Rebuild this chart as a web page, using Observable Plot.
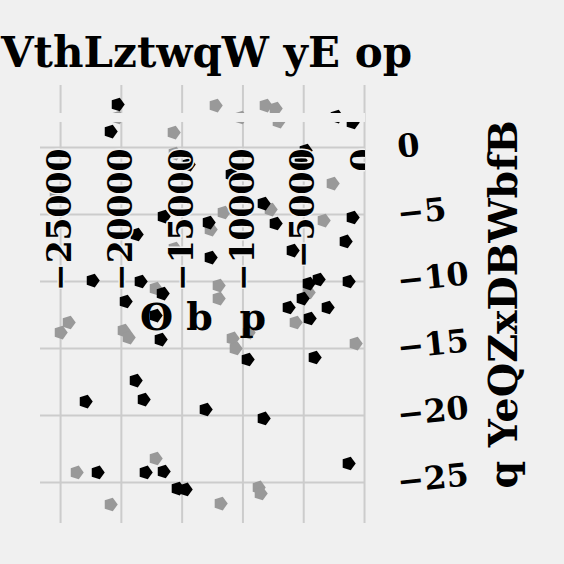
<!DOCTYPE html>
<html>
<head>
<meta charset="utf-8">
<script src="https://cdn.jsdelivr.net/npm/d3@7"></script>
<script src="https://cdn.jsdelivr.net/npm/@observablehq/plot@0.6"></script>
<style>
  html, body { margin: 0; padding: 0; background: #f0f0f0; }
  #title { font-family: "DejaVu Serif", serif; font-weight: bold; font-size: 42px; line-height: 38px; margin: 0; padding: 34px 0 0 1px; height: 46px; white-space: nowrap; color: #000; }
  #chart svg { display: block; }
</style>
</head>
<body>
<div id="title"></div>
<div id="chart"></div>
<script>
const titleText = "VthLztwqW yE op";
const xLabel = "O b\u00a0 p";
const yLabel = "q YeQZxDBWbfB";
const xTicks = [-25000, -20000, -15000, -10000, -5000, 0];
const yTicks = [0, -5, -10, -15, -20, -25];
const bandRange = [{y1: 1.87, y2: 2.54}];

const blackX = [-20313, -20889, -14474, -16530, -18751, -22369, -18422, -16612, -19655, -2303, -987, -4852, -5263, -10938, -8306, -7319, -987, -12829, -1563, -12665, -5921, -4605, -3783, -1316, -5099, -17188, -16777, -18833, -18175, -22945, -21958, -18011, -16530, -15379, -14721, -6250, -3043, -4523, -9622, -4112, -8306, -13076, -1316];
const blackY = [3.21, 1.19, -1.27, -5.15, -6.49, -9.93, -10.0, -10.9, -11.49, 2.31, 1.87, -0.22, -0.97, -2.01, -4.18, -5.67, -5.22, -5.60, -7.01, -8.21, -7.69, -10.15, -9.85, -10.0, -11.27, -12.54, -14.33, -17.39, -18.81, -18.96, -24.25, -24.25, -24.18, -25.45, -25.52, -11.94, -11.94, -12.76, -15.82, -15.67, -20.22, -19.55, -23.58];

const grayX = [-20313, -15708, -15626, -25412, -15626, -17188, -12254, -8142, -7319, -10198, -7073, -2632, -7731, -11596, -3372, -12665, -12007, -12007, -4605, -24343, -25001, -19820, -19409, -17188, -23685, -20889, -5675, -10856, -10609, -9540, -740, -8717, -8553, -11843];
const grayY = [2.24, 1.12, -0.45, -3.43, -7.54, -10.52, 3.13, 3.13, 2.91, 2.24, 1.94, -2.69, -4.63, -4.85, -5.45, -6.12, -10.3, -11.27, -10.82, -13.06, -13.81, -13.66, -14.18, -23.21, -24.25, -26.64, -13.06, -14.25, -15.0, -13.81, -14.63, -25.37, -25.82, -26.57];

document.getElementById("title").textContent = titleText;

const blackPts = blackX.map((x, i) => ({x, y: blackY[i]}));
const grayPts = grayX.map((x, i) => ({x, y: grayY[i]}));

const pentagon = {
  draw(context, size) {
    const r = Math.sqrt(size / Math.PI);
    for (let i = 0; i < 5; i++) {
      const a = i * 2 * Math.PI / 5;
      const px = r * Math.cos(a), py = r * Math.sin(a);
      if (i === 0) context.moveTo(px, py); else context.lineTo(px, py);
    }
    context.closePath();
  }
};

const serif = "DejaVu Serif";
const fmt = d3.format("d");

const chart = Plot.plot({
  width: 564,
  height: 484,
  marginTop: 5,
  marginBottom: 41,
  marginLeft: 40,
  marginRight: 199,
  style: {background: "#f0f0f0", fontFamily: serif},
  x: {domain: [-26650, 80], axis: null},
  y: {domain: [-28.06, 4.63], axis: null},
  marks: [
    Plot.ruleX(xTicks, {x: d => d, stroke: "#cccccc", strokeWidth: 2}),
    Plot.ruleY(yTicks, {y: d => d, stroke: "#cccccc", strokeWidth: 2}),
    Plot.dot(grayPts, {x: "x", y: "y", r: 7.2, symbol: pentagon, fill: "#999999", stroke: null}),
    Plot.dot(blackPts, {x: "x", y: "y", r: 7.2, symbol: pentagon, fill: "#000000", stroke: null}),
    Plot.rect(bandRange, {y1: "y1", y2: "y2", fill: "#f0f0f0"}),
    Plot.text(xTicks, {x: d => d, y: () => 0, dy: 1, text: d => fmt(d), rotate: -90, textAnchor: "end", lineAnchor: "middle", fontSize: 33, fontWeight: "bold", fontFamily: serif, fill: "#000", stroke: "#f0f0f0", strokeWidth: 3, clip: true}),
    Plot.text(yTicks, {y: d => d, frameAnchor: "right", dx: 32, text: d => fmt(d), rotate: -6, textAnchor: "start", lineAnchor: "middle", fontSize: 32, fontWeight: "bold", fontFamily: serif, fill: "#000"}),
    Plot.text([xLabel], {frameAnchor: "middle", dy: 13, text: d => d, textAnchor: "middle", lineAnchor: "middle", fontSize: 38, fontWeight: "bold", fontFamily: serif, fill: "#000"}),
    Plot.text([yLabel], {frameAnchor: "right", dx: 139, text: d => d, rotate: -90, textAnchor: "middle", lineAnchor: "middle", fontSize: 39.5, fontWeight: "bold", fontFamily: serif, fill: "#000"})
  ]
});
document.getElementById("chart").appendChild(chart);
</script>
</body>
</html>
